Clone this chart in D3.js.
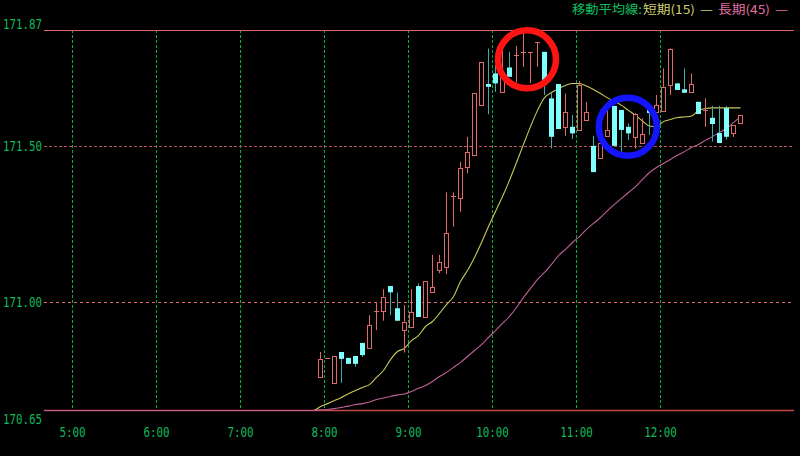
<!DOCTYPE html>
<html><head><meta charset="utf-8">
<script src="https://cdn.jsdelivr.net/npm/d3@7"></script>
<style>html,body{margin:0;padding:0;background:#000;}svg{display:block;}</style>
</head><body>
<svg id="chart" width="800" height="456"></svg>
<script>
// ---- data ----
const candleTimes = ["07:55","08:00","08:05","08:10","08:15","08:20","08:25","08:30","08:35","08:40","08:45","08:50",
"08:55","09:00","09:05","09:10","09:15","09:20","09:25","09:30","09:35","09:40","09:45","09:50",
"09:55","10:00","10:05","10:10","10:15","10:20","10:25","10:30","10:35","10:40","10:45","10:50",
"10:55","11:00","11:05","11:10","11:15","11:20","11:25","11:30","11:35","11:40","11:45","11:50",
"11:55","12:00","12:05","12:10","12:15","12:20","12:25","12:30","12:35","12:40","12:45","12:50","12:55"];
const openP  = [170.759,170.820,170.740,170.839,170.820,170.826,170.868,170.852,170.970,170.971,171.050,170.979,
170.909,170.920,171.050,170.950,171.030,171.102,171.110,171.338,171.331,171.430,171.470,171.630,
171.697,171.731,171.672,171.750,171.790,171.800,171.800,171.830,171.800,171.651,171.697,171.560,
171.560,171.550,171.582,171.499,171.460,171.531,171.627,171.614,171.560,171.528,171.509,171.614,
171.607,171.612,171.694,171.699,171.680,171.672,171.640,171.614,171.589,171.540,171.620,171.541,171.572];
const highP  = [170.839,170.820,170.826,170.839,170.820,170.826,170.868,170.957,170.996,171.040,171.050,171.029,
170.989,171.040,171.059,171.066,171.150,171.150,171.350,171.350,171.448,171.528,171.668,171.767,
171.811,171.758,171.808,171.800,171.819,171.864,171.800,171.830,171.800,171.672,171.697,171.667,
171.598,171.707,171.640,171.531,171.531,171.620,171.627,171.614,171.571,171.604,171.587,171.620,
171.662,171.747,171.811,171.699,171.747,171.731,171.640,171.651,171.627,171.627,171.627,171.566,171.598];
const lowP   = [170.759,170.820,170.740,170.740,170.801,170.791,170.823,170.852,170.909,170.939,170.957,170.939,
170.837,170.920,170.951,170.950,171.030,171.091,171.088,171.240,171.288,171.411,171.470,171.630,
171.600,171.672,171.672,171.720,171.702,171.752,171.700,171.752,171.662,171.491,171.553,171.531,
171.521,171.550,171.582,171.415,171.460,171.531,171.499,171.480,171.518,171.491,171.509,171.534,
171.607,171.612,171.662,171.678,171.669,171.672,171.601,171.560,171.513,171.508,171.519,171.528,171.572];
const closeP = [170.817,170.820,170.826,170.817,170.801,170.801,170.829,170.925,170.970,171.016,171.030,170.939,
170.936,170.966,170.951,171.066,171.046,171.128,171.219,171.338,171.427,171.478,171.668,171.767,
171.688,171.699,171.726,171.720,171.790,171.800,171.800,171.830,171.694,171.528,171.553,171.608,
171.539,171.694,171.608,171.415,171.507,171.550,171.499,171.550,171.539,171.600,171.536,171.604,
171.630,171.688,171.808,171.678,171.669,171.697,171.601,171.614,171.569,171.508,171.528,171.566,171.598];

// moving averages (first point = 07:50, then one per candle)
const maTimes = ["07:50"].concat(candleTimes);
const maShort = [170.650,170.663,170.672,170.682,170.692,170.704,170.714,170.724,170.733,170.756,170.778,170.813,170.839,
170.849,170.874,170.890,170.919,170.935,170.961,170.989,171.015,171.063,171.098,171.140,171.188,
171.239,171.287,171.335,171.387,171.444,171.502,171.559,171.611,171.652,171.668,171.681,171.691,
171.697,171.697,171.689,171.678,171.665,171.651,171.640,171.627,171.611,171.595,171.577,171.561,
171.559,171.575,171.582,171.588,171.590,171.593,171.611,171.617,171.619,171.619,171.619,171.619,171.619];
const maLong = [170.650,170.652,170.653,170.656,170.660,170.664,170.669,170.672,170.677,170.685,170.690,170.695,170.700,
170.703,170.711,170.721,170.730,170.743,170.759,170.772,170.788,170.804,170.823,170.842,170.861,
170.884,170.906,170.929,170.951,170.980,171.012,171.041,171.070,171.092,171.118,171.146,171.166,
171.188,171.207,171.230,171.249,171.268,171.290,171.310,171.329,171.348,171.367,171.390,171.412,
171.428,171.441,171.454,171.467,171.479,171.492,171.502,171.515,171.527,171.540,171.553,171.572,171.591];

const yTicks = [170.65, 171.00, 171.50, 171.87];
const yTickLabels = ["170.65","171.00","171.50","171.87"];
const xTickTimes = ["05:00","06:00","07:00","08:00","09:00","10:00","11:00","12:00"];
const xTickLabels = ["5:00","6:00","7:00","8:00","9:00","10:00","11:00","12:00"];
const domainTimes = ["04:40","13:35"];
const annotations = [
  {time:"10:25", price:171.776, color:"#ff1414"},
  {time:"11:37", price:171.560, color:"#1414ff"}
];
const legendParts = [
  {text:"移動平均線:", color:"#10c060"},
  {text:"短期(15)", color:"#d0d070"},
  {text:"—", color:"#d0d070"},
  {text:"長期(45)", color:"#e070a0"},
  {text:"—", color:"#e070a0"}
];

// ---- drawing ----
const svg = d3.select("#chart");
const toDate = s => { const [h,m] = s.split(":").map(Number); return new Date(2024,0,1,h,m); };
const plot = {left:44, right:793, top:30, bottom:411};

const x = d3.scaleTime().domain(domainTimes.map(toDate)).range([plot.left, plot.right]);
const y = d3.scaleLinear().domain([170.65, 171.87]).range([plot.bottom, plot.top]);
const half = 2.5*60*1000;
const cx = t => x(new Date(toDate(t).getTime()+half));

svg.append("rect").attr("width",800).attr("height",456).attr("fill","#000");

svg.append("defs").append("clipPath").attr("id","clip")
  .append("rect").attr("x",plot.left).attr("y",plot.top-1).attr("width",plot.right-plot.left).attr("height",plot.bottom-plot.top+2);

// vertical hour grid
svg.append("g").selectAll("line").data(xTickTimes).join("line")
  .attr("x1",d=>Math.round(x(toDate(d)))+0.5).attr("x2",d=>Math.round(x(toDate(d)))+0.5)
  .attr("y1",plot.top).attr("y2",plot.bottom-2)
  .attr("stroke","#00b040").attr("stroke-width",1).attr("stroke-dasharray","3,2");

// horizontal grid at inner ticks
const innerTicks = yTicks.slice(1,-1);
svg.append("g").selectAll("line").data(innerTicks).join("line")
  .attr("x1",plot.left).attr("x2",plot.right+1)
  .attr("y1",d=>Math.round(y(d))+0.5).attr("y2",d=>Math.round(y(d))+0.5)
  .attr("stroke",d=>d===171.50?"#b05656":"#e06464").attr("stroke-width",1)
  .attr("stroke-dasharray",d=>d===171.50?"3,2":"3,3");

// frame lines
svg.append("line").attr("x1",plot.left).attr("x2",plot.right+1)
  .attr("y1",Math.round(y(171.87))+0.5).attr("y2",Math.round(y(171.87))+0.5)
  .attr("stroke","#e06868").attr("stroke-width",1);
svg.append("line").attr("x1",plot.left).attr("x2",plot.right+1)
  .attr("y1",Math.round(y(170.65))-0.5).attr("y2",Math.round(y(170.65))-0.5)
  .attr("stroke","#c04848").attr("stroke-width",1.5);

// moving average lines
const maG = svg.append("g").attr("clip-path","url(#clip)");
function maPoints(vals){
  const pts = [[x.range()[0], y(y.domain()[0])]];
  maTimes.forEach((t,i)=>pts.push([cx(t), y(vals[i])]));
  return pts;
}
const lineGen = d3.line().curve(d3.curveMonotoneX);
maG.append("path").attr("d",lineGen(maPoints(maShort))).attr("fill","none")
  .attr("stroke","#c8c858").attr("stroke-width",1.1).attr("transform","translate(0,-0.5)");
maG.append("path").attr("d",lineGen(maPoints(maLong))).attr("fill","none")
  .attr("stroke","#c0609a").attr("stroke-width",1.1).attr("transform","translate(0,-0.5)");

// candles
const candles = candleTimes.map((t,i)=>({t, o:openP[i], h:highP[i], l:lowP[i], c:closeP[i]}));
const upCol = "#e06a6a", dnCol = "#80ffff", dnWick = "#40aaaa";
const cg = svg.append("g").attr("clip-path","url(#clip)");
candles.forEach(d=>{
  const xc = Math.floor(cx(d.t))+0.5;
  const up = d.c >= d.o;
  const top = y(Math.max(d.o,d.c)), bot = y(Math.min(d.o,d.c));
  const doji = Math.abs(d.c-d.o) < 0.002;
  if (doji){
    cg.append("line").attr("x1",xc).attr("x2",xc).attr("y1",y(d.h)).attr("y2",y(d.l))
      .attr("stroke",upCol).attr("stroke-width",1);
    cg.append("line").attr("x1",xc-2.5).attr("x2",xc+2.5).attr("y1",Math.round(top)+0.5).attr("y2",Math.round(top)+0.5)
      .attr("stroke",upCol).attr("stroke-width",1);
  } else if (up){
    if (y(d.h) < top-0.5) cg.append("line").attr("x1",xc).attr("x2",xc).attr("y1",y(d.h)).attr("y2",top).attr("stroke",upCol);
    if (y(d.l) > bot+0.5) cg.append("line").attr("x1",xc).attr("x2",xc).attr("y1",bot).attr("y2",y(d.l)).attr("stroke",upCol);
    cg.append("rect").attr("x",xc-2).attr("width",4).attr("y",Math.round(top)+0.5).attr("height",Math.max(1,Math.round(bot)-Math.round(top)))
      .attr("fill","#000").attr("stroke",upCol).attr("stroke-width",1);
  } else {
    cg.append("line").attr("x1",xc).attr("x2",xc).attr("y1",y(d.h)).attr("y2",y(d.l)).attr("stroke",dnWick);
    cg.append("rect").attr("x",xc-2.5).attr("width",5).attr("y",top).attr("height",Math.max(1,bot-top))
      .attr("fill",dnCol);
  }
});

// annotation circles
svg.append("g").selectAll("circle").data(annotations).join("circle")
  .attr("cx",d=>x(toDate(d.time))).attr("cy",d=>y(d.price)).attr("r",29)
  .attr("fill","none").attr("stroke",d=>d.color).attr("stroke-width",6.5);

// axes text
const font = "'DejaVu Sans Mono', monospace";
const xAxis = d3.axisBottom(x).tickValues(xTickTimes.map(toDate))
  .tickFormat((d,i)=>xTickLabels[i]).tickSize(0).tickPadding(0);
const gx = svg.append("g").attr("transform","translate(0,0)").call(xAxis);
gx.select(".domain").remove();
gx.selectAll("text").attr("y",437).attr("dy",null).attr("fill","#10b85a")
  .style("font-family",font).style("font-size","14px")
  .attr("textLength",function(){return this.textContent.length*6.55;}).attr("lengthAdjust","spacingAndGlyphs");

const yAxis = d3.axisLeft(y).tickValues(yTicks).tickFormat((d,i)=>yTickLabels[i]).tickSize(0).tickPadding(0);
const gy = svg.append("g").attr("transform","translate(42,0)").call(yAxis);
gy.select(".domain").remove();
gy.selectAll(".tick text").attr("x",0).attr("text-anchor","end").attr("fill","#10b85a")
  .attr("dy",(d)=> d===171.87 ? "-2px" : (d===170.65 ? "12px" : "5px"))
  .style("font-family",font).style("font-size","14px")
  .attr("textLength",39).attr("lengthAdjust","spacingAndGlyphs");

// legend
const legendX = [572, 643, 700, 718, 775];
const legendW = [70, 52, 13, 52, 13];
const lg = svg.append("g");
legendParts.forEach((p,i)=>{
  lg.append("text").attr("x",legendX[i]).attr("y",14).text(p.text)
    .attr("fill",p.color).style("font-family","'Noto Sans CJK JP', sans-serif").style("font-size","12px")
    .attr("textLength",legendW[i]).attr("lengthAdjust","spacingAndGlyphs");
});
</script>
</body></html>
